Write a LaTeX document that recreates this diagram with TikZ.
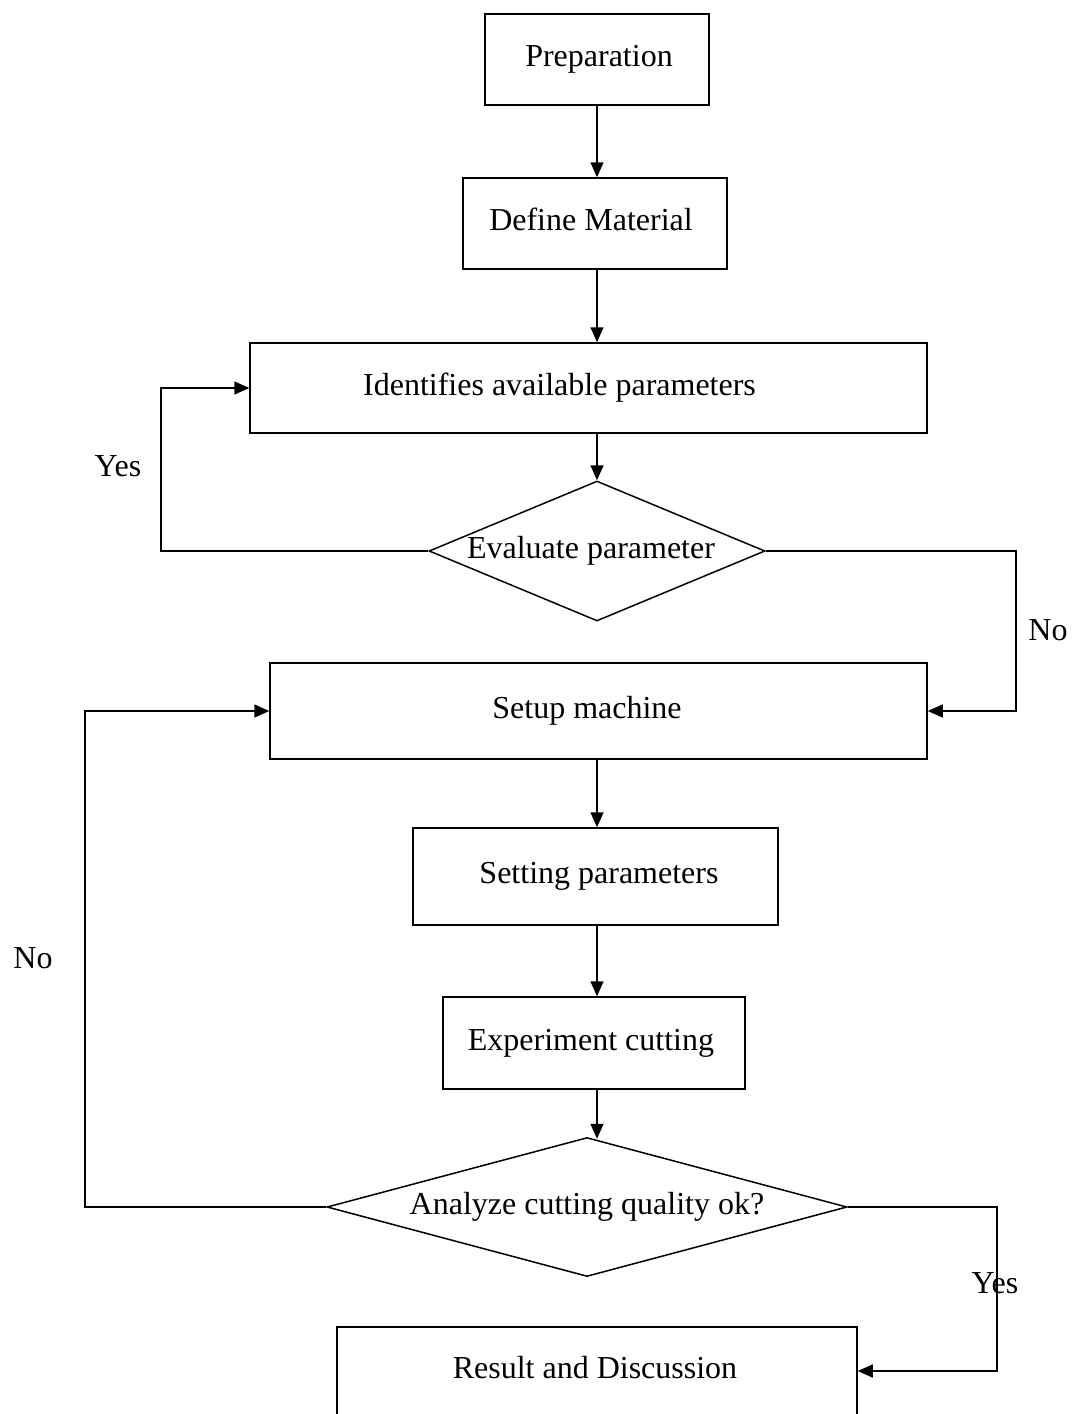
\documentclass[tikz,border=0pt]{standalone}
\usepackage{fontspec}
\setmainfont{Liberation Serif}
\usetikzlibrary{shapes.geometric,arrows.meta}
\begin{document}
\begin{tikzpicture}[x=1pt,y=-1pt,
  every node/.style={font=\fontsize{32}{36}\selectfont},
  box/.style={draw, line width=1.5pt, rectangle, inner sep=0pt, text height=21.5pt, text depth=7pt},
  dec/.style={draw, line width=1.5pt, diamond, inner sep=0pt, text height=21.5pt, text depth=7pt},
  lbl/.style={inner sep=0pt},
  arr/.style={line width=1.5pt, -{Triangle[length=15pt,width=13pt]}},
  ln/.style={line width=1.5pt}
]
\useasboundingbox (0,0) rectangle (1072,1414);
\clip (0,0) rectangle (1072,1414);

\node[box, minimum width=224pt, minimum height=91pt] (prep) at (597,59.5) {\kern4pt Preparation};
\node[box, minimum width=264pt, minimum height=91pt] (def) at (595,223.5) {Define Material\kern8pt};
\node[box, minimum width=677pt, minimum height=90pt] (ident) at (588.5,388) {Identifies available parameters\kern58pt};
\node[dec, shape aspect=2.4, minimum width=336pt, minimum height=140pt] (eval) at (597,551) {Evaluate parameter\kern12pt};
\node[box, minimum width=657pt, minimum height=96pt] (setup) at (598.5,711) {Setup machine\kern23pt};
\node[box, minimum width=365pt, minimum height=97pt] (sett) at (595.5,876.5) {\kern7pt Setting parameters};
\node[box, minimum width=302pt, minimum height=92pt] (exp) at (594,1043) {Experiment cutting\kern6pt};
\node[dec, shape aspect=3.74, minimum width=520pt, minimum height=139pt] (ana) at (587,1207) {Analyze cutting quality ok?};
\node[box, minimum width=520pt, minimum height=120pt, anchor=north, text depth=37.5pt] (res) at (597,1326) {Result and Discussion\kern4pt};

\node[lbl] (yes1) at (118,466) {Yes};
\node[lbl] (no1) at (1048,630) {No};
\node[lbl] (no2) at (33,958) {No};
\node[lbl] (yes2) at (995,1283) {Yes};

\coordinate (c597) at (597,0);
\draw[arr] (c597 |- prep.south) -- (c597 |- def.north);
\draw[arr] (c597 |- def.south) -- (c597 |- ident.north);
\draw[arr] (c597 |- ident.south) -- (c597 |- eval.north);
\draw[arr] (c597 |- setup.south) -- (c597 |- sett.north);
\draw[arr] (c597 |- sett.south) -- (c597 |- exp.north);
\draw[arr] (c597 |- exp.south) -- ([yshift=-2pt]c597 |- ana.north);

\coordinate (yesL) at (161,551);
\draw[arr] (eval.west) -- (yesL) |- (ident.west);
\coordinate (noR) at (1016,551);
\draw[arr] (eval.east) -- (noR) |- (setup.east);
\coordinate (noL) at (85,1207);
\draw[arr] (ana.west) -- (noL) |- (setup.west);
\coordinate (yesR) at (997,1207);
\coordinate (yesRb) at (997,1371);
\draw[arr] (ana.east) -- (yesR) -- (yesRb) -- (yesRb -| res.east);
\end{tikzpicture}
\end{document}
